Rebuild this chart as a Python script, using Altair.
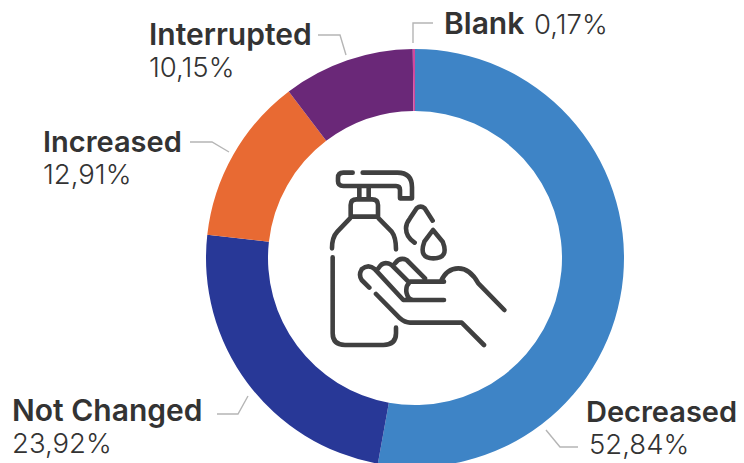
import altair as alt
import pandas as pd

categories = ["Decreased", "Not Changed", "Increased", "Interrupted", "Blank"]
shares = [52.84, 23.92, 12.91, 10.15, 0.17]
share_labels = ["52,84%", "23,92%", "12,91%", "10,15%", "0,17%"]
slice_colors = ["#3E84C6", "#283897", "#E86A33", "#6A2878", "#D0489E"]

OFF = 8
name_x = [586, 12, 43, 149, 444]
name_y = [422, 421, 152, 45, 34]
name_size = [29, 30, 29, 30, 30]
val_x = [589, 12, 43, 149, 534]
val_y = [454, 453, 184, 77, 34]

leaders = {
    "Decreased": [(546, 430), (560, 447), (578, 447)],
    "Not Changed": [(217, 414), (238, 414), (248, 396)],
    "Increased": [(190, 142), (212, 142), (229, 152)],
    "Interrupted": [(318, 35), (340, 35), (346, 55)],
    "Blank": [(413, 43), (413, 23), (433, 23)],
}

icon_path = (
    "M128 68H100Q84 68 84 84V94Q84 108 100 108H258Q270 108 270 120V145H306V112Q306 68 262 68H158"
    "M148 112V146M176 112V146"
    "M122 200V165Q122 148 140 148H186Q204 148 204 165V200Z"
    "M120 205L82 245Q66 262 66 295M206 205L245 245Q258 262 258 298"
    "M68 322V550Q68 585 105 585H220Q258 585 258 550V533"
    "M314 278Q288 262 288 235Q288 220 300 205L320 175Q332 165 344 175L368 212"
    "M369 240L343 275Q325 325 370 325Q418 325 398 275Z"
    "M178 413L155 390Q145 375 155 358Q175 340 195 358L280 450H402"
    "M205 355Q220 330 245 345L298 398"
    "M255 340Q270 320 290 330L345 385"
    "M402 395H300Q285 410 290 430Q295 450 310 450"
    "M300 395H392Q410 355 445 355Q480 355 505 400L583 480"
    "M198 432L270 505Q285 518 300 518H455L522 585"
)

pie = pd.DataFrame({"cat": categories, "share": shares, "col": slice_colors, "ord": range(5)})
donut = alt.Chart(pie).mark_arc(outerRadius=209, innerRadius=147).encode(
    theta=alt.Theta("share:Q", stack=True),
    order=alt.Order("ord:Q"),
    color=alt.Color("col:N", scale=None),
    x=alt.value(415 - OFF),
    y=alt.value(258 - OFF),
)

rows = []
for k, pts in leaders.items():
    for i, (a, b) in enumerate(pts):
        rows.append({"k": k, "i": i, "x": a - OFF, "y": b - OFF})
lines = alt.Chart(pd.DataFrame(rows)).mark_line(color="#B5B5B5", strokeWidth=1.4).encode(
    x=alt.X("x:Q", scale=None, axis=None),
    y=alt.Y("y:Q", scale=None, axis=None),
    detail="k:N",
    order="i:Q",
)

names = pd.DataFrame({"t": categories, "x": [v - OFF for v in name_x], "y": [v - OFF for v in name_y], "s": name_size})
vals = pd.DataFrame({"t": share_labels, "x": [v - OFF for v in val_x], "y": [v - OFF for v in val_y]})

name_text = alt.Chart(names).mark_text(
    font="Inter", fontWeight=600, color="#333333", align="left", baseline="alphabetic"
).encode(
    x=alt.X("x:Q", scale=None, axis=None),
    y=alt.Y("y:Q", scale=None, axis=None),
    text="t:N",
    size=alt.Size("s:Q", scale=None),
)
val_text = alt.Chart(vals).mark_text(
    font="Inter", fontSize=27.5, fontWeight=300, color="#333333", align="left", baseline="alphabetic"
).encode(x=alt.X("x:Q", scale=None, axis=None), y=alt.Y("y:Q", scale=None, axis=None), text="t:N")

icon = alt.Chart(pd.DataFrame({"x": [310 - OFF], "y": [150 - OFF]})).mark_point(
    shape=icon_path, size=4 / 9, filled=False, stroke="#404040", strokeWidth=4.6,
    opacity=1, strokeCap="round", strokeJoin="round",
).encode(x=alt.X("x:Q", scale=None, axis=None), y=alt.Y("y:Q", scale=None, axis=None))

chart = alt.layer(donut, lines, name_text, val_text, icon).properties(
    width=728, height=455, padding=0,
    autosize=alt.AutoSizeParams(type="none"),
    background="white",
).configure_view(stroke=None)

chart.save("out.html", embed_options={"renderer": "svg", "actions": False})
